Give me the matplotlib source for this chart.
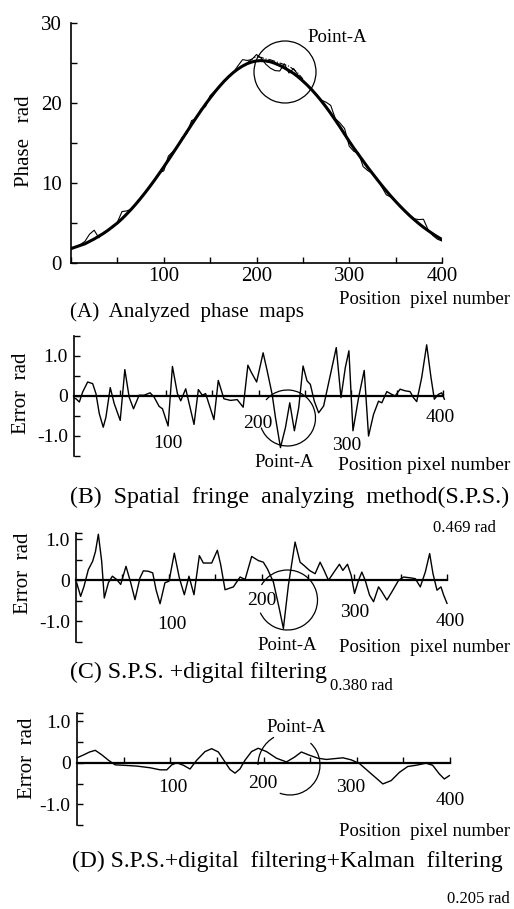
import numpy as np
import matplotlib
matplotlib.use("Agg")
import matplotlib.pyplot as plt
from matplotlib.patches import Arc
from matplotlib.ticker import MultipleLocator

plt.rcParams['font.family'] = ['Liberation Serif', 'DejaVu Serif']

W, H = 514, 909  # output size in pixels

# ---------------- (A) analyzed phase maps ----------------
pos_a = np.arange(0, 401, 5)
phase_fit = [1.8, 2.0, 2.2, 2.4, 2.7, 3.0, 3.35, 3.7, 4.1, 4.55,
             5.0, 5.53, 6.11, 6.72, 7.38, 8.07, 8.8, 9.56, 10.35, 11.17,
             12.01, 12.87, 13.75, 14.63, 15.52, 16.41, 17.3, 18.17, 19.02, 19.84,
             20.62, 21.37, 22.06, 22.71, 23.29, 23.81, 24.25, 24.62, 24.92, 25.13,
             25.26, 25.3, 25.25, 25.15, 24.95, 24.7, 24.4, 24.05, 23.7, 23.25,
             22.75, 22.2, 21.6, 20.95, 20.25, 19.5, 18.7, 17.85, 17.0, 16.1,
             15.2, 14.35, 13.55, 12.75, 11.95, 11.2, 10.45, 9.72, 9.02, 8.34,
             7.7, 7.08, 6.5, 5.94, 5.42, 4.93, 4.47, 4.05, 3.65, 3.28, 2.94]
phase_meas = [1.7, 2.0, 2.3, 2.7, 3.6, 4.1, 3.15, 3.8, 4.1, 4.45,
              5.1, 6.43, 6.51, 6.72, 7.28, 8.17, 8.8, 9.66, 10.25, 11.27,
              11.51, 13.37, 13.95, 14.53, 15.72, 16.21, 17.8, 18.07, 19.22, 19.54,
              20.92, 21.47, 21.96, 22.71, 23.39, 23.81, 24.65, 25.42, 25.32, 25.43,
              26.06, 25.6, 24.85, 24.35, 24.05, 24.0, 24.9, 23.75, 24.3, 23.45,
              22.65, 22.2, 21.7, 20.95, 20.35, 20.1, 19.7, 18.05, 17.5, 16.8,
              14.6, 13.95, 13.75, 12.05, 11.55, 11.2, 10.55, 9.52, 8.52, 8.24,
              7.7, 7.18, 6.5, 5.84, 5.52, 5.43, 5.47, 4.15, 3.45, 2.98, 2.74]
pos_dash = np.arange(190, 251, 5)
phase_dash = [25.0, 25.5, 25.8, 25.7, 25.5, 25.4, 25.2, 25.0, 24.8, 24.6, 24.2, 23.7, 23.0]

# ---------------- (B) spatial fringe analyzing method ----------------
pos_b = [0, 2.2, 5.8, 9.4, 14.8, 20.2, 23.8, 27.4, 31.7, 34.6, 39.3, 43.6, 50.1, 55.1,
         59.8, 64.5, 70.6, 76.0, 82.5, 86.9, 92.3, 95.9, 102.0, 106.7, 112.1, 115.7,
         121.1, 130.1, 134.8, 139.1, 142.7, 151.7, 156.4, 162.5, 169.7, 176.9, 183.4,
         188.5, 192.0, 198.0, 205.0, 209.4, 214.8, 218.4, 223.8, 229.2, 233.9, 238.9,
         243.6, 248.3, 252.6, 256.2, 260.5, 265.2, 270.6, 279.6, 284.3, 289.4, 294.1,
         298.0, 302.4, 308.5, 314.6, 319.3, 324.7, 330.1, 333.7, 339.1, 344.5, 348.1,
         353.5, 358.9, 364.3, 367.9, 371.5, 376.9, 382.3, 387.0, 390.6, 394.9, 398.6, 401.5]
err_b = [-0.05, -0.07, -0.15, 0.1, 0.35, 0.31, 0.06, -0.44, -0.78, -0.53, 0.21, -0.19, -0.61, 0.66,
         -0.03, -0.32, 0.02, 0.02, 0.08, -0.03, -0.26, -0.32, -0.75, 0.74, 0.06, -0.12,
         0.18, -0.71, 0.16, 0.02, 0.06, -0.59, 0.39, -0.07, -0.11, -0.09, -0.28,
         0.77, 0.6, 0.35, 1.08, 0.63, 0.04, -0.54, -1.29, -0.79, -0.17, -0.87,
         -0.29, 0.75, 0.38, 0.29, -0.13, -0.42, -0.25, 0.71, 1.21, -0.04, 0.71,
         1.13, -0.87, -0.04, 0.64, -1.0, -0.46, -0.13, -0.17, 0.11, 0.04, 0.0,
         0.17, 0.13, 0.11, -0.04, -0.14, 0.46, 1.28, 0.46, -0.08, 0.04, 0.08, -0.08]

# ---------------- (C) S.P.S. + digital filtering ----------------
pos_c = [0.7, 5.0, 8.6, 13.3, 17.9, 21.0, 24.1, 27.7, 30.5, 34.9, 39.2, 43.8, 48.2, 53.9,
         59.0, 63.6, 69.0, 72.6, 78.0, 82.7, 86.3, 90.6, 95.9, 100.3, 106.0, 111.4,
         116.8, 121.8, 127.2, 133.0, 137.3, 146.3, 152.4, 156.0, 160.7, 169.7, 176.9,
         182.3, 189.4, 196.6, 202.0, 206.3, 212.8, 219.2, 223.6, 229.0, 236.2, 241.6,
         245.9, 251.7, 257.8, 263.2, 267.5, 272.2, 279.4, 284.0, 287.7, 292.7, 296.7,
         300.3, 304.6, 308.2, 311.8, 316.5, 320.8, 326.2, 329.8, 335.2, 340.6, 347.8,
         353.2, 360.4, 365.8, 371.2, 376.6, 381.3, 384.9, 389.2, 393.5, 396.4, 400.0]
err_c = [-0.06, -0.39, -0.15, 0.26, 0.46, 0.7, 1.12, 0.46, -0.43, -0.06, 0.10, 0.02, -0.10, 0.34,
         -0.06, -0.47, 0.06, 0.23, 0.22, 0.18, -0.23, -0.57, -0.06, -0.02, 0.66, 0.06,
         -0.35, 0.10, -0.35, 0.60, 0.42, 0.42, 0.73, 0.38, -0.23, -0.16, 0.08,
         0.02, 0.58, 0.48, 0.44, 0.28, -0.04, -0.69, -1.17, -0.12, 0.93, 0.44,
         0.36, 0.24, 0.16, 0.44, 0.24, 0.0, 0.24, 0.39, 0.24, 0.39, 0.12,
         -0.32, 0.0, 0.2, 0.0, -0.36, -0.52, -0.16, -0.28, -0.48, -0.28, 0.0,
         0.08, 0.06, 0.04, -0.16, 0.2, 0.65, 0.16, -0.24, -0.16, -0.36, -0.56]

# ---------------- (D) S.P.S. + digital filtering + Kalman filtering ----------------
pos_d = [0, 7.1, 13.5, 19.6, 26.7, 33.8, 41.0, 49.9, 64.2, 78.4, 89.1, 96.3, 101.6, 107.0,
         114.1, 121.2, 128.3, 137.3, 144.4, 151.6, 158.7, 164.0, 169.4, 174.7, 180.1,
         187.2, 194.3, 203.2, 213.9, 224.6, 233.5, 240.6, 249.5, 258.4, 267.4, 276.3,
         285.2, 294.1, 303.0, 313.7, 328.0, 336.9, 345.8, 354.7, 363.6, 374.3, 381.4,
         388.6, 393.9, 399.3]
err_d = [0.12, 0.19, 0.26, 0.30, 0.19, 0.06, -0.05, -0.06, -0.08, -0.12, -0.17, -0.17, -0.05, 0.0,
         -0.06, -0.15, 0.06, 0.27, 0.34, 0.26, 0.02, -0.16, -0.25, -0.15, 0.06,
         0.27, 0.35, 0.27, 0.11, 0.02, 0.14, 0.26, 0.18, 0.11, 0.08, 0.10,
         0.12, 0.07, -0.02, -0.23, -0.51, -0.43, -0.23, -0.09, -0.06, -0.01, -0.06,
         -0.27, -0.39, -0.31]

fig = plt.figure(figsize=(W / 100, H / 100), dpi=100)


def px_axes(left, top, right, bottom):
    """Add axes from a pixel box (origin top-left)."""
    return fig.add_axes([left / W, 1 - bottom / H, (right - left) / W, (bottom - top) / H])


def px_text(x, y, s, **kw):
    """Figure text at pixel position (origin top-left)."""
    fig.text(x / W, 1 - y / H, s, **kw)


def px_arc(x, y, r, t1=0, t2=360):
    """Round 'Point-A' marker, drawn in inches so it stays a circle."""
    arc = Arc((x / 100, (H - y) / 100), 2 * r / 100, 2 * r / 100, theta1=t1, theta2=t2,
              transform=fig.dpi_scale_trans, lw=0.9, color='black')
    fig.add_artist(arc)


def error_axes(box, ytop):
    ax = px_axes(*box)
    ax.set_xlim(0, 400)
    ax.set_ylim(-1.5, ytop)
    ax.patch.set_alpha(0)
    ax.spines['top'].set_visible(False)
    ax.spines['right'].set_visible(False)
    ax.spines['bottom'].set_position(('data', 0))
    ax.spines['bottom'].set_linewidth(1.6)
    ax.spines['left'].set_linewidth(1.2)
    ax.set_xticks(np.arange(50, 401, 50))
    ax.set_xticklabels([])
    ax.set_yticks([-1.5, -1.0, -0.5, 0, 0.5, 1.0, ytop])
    ax.set_yticklabels(['', '-1.0', '', '0', '', '1.0', ''])
    ax.tick_params(direction='in', length=4, width=1.0, labelsize=14, pad=4.5)
    return ax


# ---- panel A ----
axA = px_axes(71, 23, 442, 263)
axA.plot(pos_a, phase_meas, color='black', lw=0.8)
axA.plot(pos_dash, phase_dash, color='black', lw=0.8, ls='-.')
axA.plot(pos_a, phase_fit, color='black', lw=2.2)
axA.set_xlim(0, 400)
axA.set_ylim(0, 30)
axA.spines['top'].set_visible(False)
axA.spines['right'].set_visible(False)
axA.spines['left'].set_linewidth(1.2)
axA.spines['bottom'].set_linewidth(1.2)
axA.xaxis.set_major_locator(MultipleLocator(100))
axA.xaxis.set_minor_locator(MultipleLocator(50))
axA.yaxis.set_major_locator(MultipleLocator(10))
axA.yaxis.set_minor_locator(MultipleLocator(5))
axA.set_xticks([100, 200, 300, 400])
axA.tick_params(which='both', direction='in', length=4, width=1.0)
axA.tick_params(axis='y', labelsize=15, pad=6.5)
axA.tick_params(axis='x', labelsize=15, pad=3)
px_arc(285, 72, 31)

px_text(25, 141, 'Phase   rad', rotation=90, ha='center', va='center', fontsize=15)
px_text(337, 37, 'Point-A', ha='center', va='center', fontsize=13.5)
px_text(510, 299, 'Position  pixel number', ha='right', va='center', fontsize=13.5)
px_text(70, 312, '(A)  Analyzed  phase  maps', ha='left', va='center', fontsize=15.2)

# ---- panel B ----
axB = error_axes((74, 336, 443, 456), 1.5)
axB.plot(pos_b, err_b, color='black', lw=1.0, clip_on=False)
px_arc(287.5, 418, 28, 200, 500)
for xv, yv, s in [(102, -1.18, '100'), (199.5, -0.7, '200'), (296, -1.25, '300'), (396.7, -0.53, '400')]:
    axB.text(xv, yv, s, ha='center', va='center', fontsize=14)

px_text(22, 393, 'Error  rad', rotation=90, ha='center', va='center', fontsize=15)
px_text(284, 462, 'Point-A', ha='center', va='center', fontsize=13.5)
px_text(510, 465, 'Position pixel number', ha='right', va='center', fontsize=14)
px_text(70, 497, '(B)  Spatial  fringe  analyzing  method(S.P.S.)', ha='left', va='center', fontsize=17.2)
px_text(433, 528, '0.469 rad', ha='left', va='center', fontsize=12)

# ---- panel C ----
axC = error_axes((76, 533, 447, 642), 1.15)
axC.plot(pos_c, err_c, color='black', lw=1.0, clip_on=False)
px_arc(287.5, 600, 30, 205, 510)
for xv, yv, s in [(103.5, -1.08, '100'), (200.5, -0.5, '200'), (300.8, -0.79, '300'), (403, -1.01, '400')]:
    axC.text(xv, yv, s, ha='center', va='center', fontsize=14)

px_text(24, 573, 'Error  rad', rotation=90, ha='center', va='center', fontsize=15)
px_text(287, 646, 'Point-A', ha='center', va='center', fontsize=13.5)
px_text(510, 647, 'Position  pixel number', ha='right', va='center', fontsize=13.5)
px_text(70, 672, '(C) S.P.S. +digital filtering', ha='left', va='center', fontsize=17.2)
px_text(330, 686, '0.380 rad', ha='left', va='center', fontsize=12)

# ---- panel D ----
axD = error_axes((77, 713, 450, 825), 1.2)
axD.plot(pos_d, err_d, color='black', lw=1.0, clip_on=False)
px_arc(290, 765, 30, -110, 47)
px_arc(290, 765, 32, 120, 180)
for xv, yv, s in [(103, -0.6, '100'), (199.5, -0.5, '200'), (293.8, -0.6, '300'), (400, -0.91, '400')]:
    axD.text(xv, yv, s, ha='center', va='center', fontsize=14)

px_text(27, 758, 'Error  rad', rotation=90, ha='center', va='center', fontsize=15)
px_text(296, 727, 'Point-A', ha='center', va='center', fontsize=13.5)
px_text(510, 831, 'Position  pixel number', ha='right', va='center', fontsize=13.5)
px_text(72, 861, '(D) S.P.S.+digital  filtering+Kalman  filtering', ha='left', va='center', fontsize=17)
px_text(447, 899, '0.205 rad', ha='left', va='center', fontsize=12)

fig.savefig('out.png', dpi=100)
